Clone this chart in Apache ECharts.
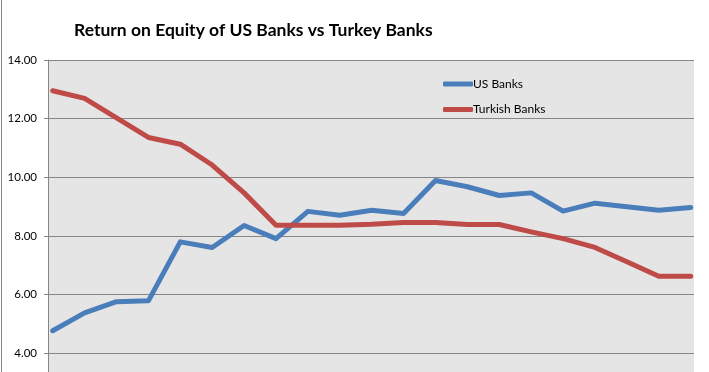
<!DOCTYPE html>
<html>
<head>
<meta charset="utf-8">
<script src="https://cdn.jsdelivr.net/npm/echarts@6/dist/echarts.min.js"></script>
<style>html,body{margin:0;padding:0;background:#fff;}#c{width:709px;height:372px;}</style>
</head>
<body>
<div id="c"></div>
<script>
var titleText = 'Return on Equity of US Banks vs Turkey Banks';
var categories = ['1','2','3','4','5','6','7','8','9','10','11','12','13','14','15','16','17','18','19','20','21'];
var usBanks = [4.77, 5.38, 5.76, 5.79, 7.80, 7.61, 8.36, 7.91, 8.84, 8.71, 8.88, 8.77, 9.89, 9.68, 9.38, 9.47, 8.85, 9.12, 9.00, 8.88, 8.97];
var turkishBanks = [12.95, 12.69, 12.03, 11.36, 11.13, 10.42, 9.47, 8.37, 8.37, 8.37, 8.40, 8.46, 8.46, 8.39, 8.39, 8.14, 7.91, 7.61, 7.12, 6.63, 6.63];
var seriesNames = ['US Banks', 'Turkish Banks'];
var yMin = 2, yMax = 14, yInterval = 2;

var chart = echarts.init(document.getElementById('c'), null, {renderer: 'canvas'});
var font = 'Lato, "Open Sans", sans-serif';
chart.setOption({
  animation: false,
  backgroundColor: '#fff',
  title: {
    text: titleText,
    left: 69, top: 16,
    textStyle: {fontFamily: font, fontWeight: 'bold', fontSize: 17.5, color: '#000'}
  },
  legend: {
    orient: 'vertical',
    left: 443, top: 78, padding: 0,
    itemWidth: 30, itemHeight: 5,
    itemGap: 13.5,
    icon: 'roundRect',
    data: seriesNames,
    textStyle: {fontFamily: font, fontSize: 12, color: '#000', padding: [0,0,0,-5]}
  },
  grid: [
    {left: 48, width: 646, top: 60, height: 352, outerBoundsMode: 'none', show: true, backgroundColor: '#e5e5e5', borderWidth: 0},
    {left: 52.7, width: 638, top: 60, height: 352, outerBoundsMode: 'none', show: false}
  ],
  xAxis: [
    {gridIndex: 0, type: 'value', show: false, min: 0, max: 1},
    {gridIndex: 1, type: 'category', data: categories, boundaryGap: false, show: false}
  ],
  yAxis: [
    {gridIndex: 0, type: 'value', min: yMin, max: yMax, interval: yInterval,
     axisLine: {show: true, lineStyle: {color: '#868686', width: 1}},
     axisTick: {show: true, length: 4, lineStyle: {color: '#868686'}},
     splitLine: {show: true, lineStyle: {color: '#868686', width: 1}},
     axisLabel: {formatter: function(v){return v.toFixed(2);}, fontFamily: font, fontSize: 11.5, color: '#000', margin: 11}
    },
    {gridIndex: 1, type: 'value', min: yMin, max: yMax, show: false}
  ],
  series: [
    {name: seriesNames[0], type: 'line', xAxisIndex: 1, yAxisIndex: 1, data: usBanks,
     symbol: 'none', color: '#4a7ebb', lineStyle: {width: 5, color: '#4a7ebb', cap: 'round', join: 'round'}},
    {name: seriesNames[1], type: 'line', xAxisIndex: 1, yAxisIndex: 1, data: turkishBanks,
     symbol: 'none', color: '#be4b48', lineStyle: {width: 5, color: '#be4b48', cap: 'round', join: 'round'}}
  ],
  graphic: [
    {type: 'line', shape: {x1: 1.5, y1: 0, x2: 1.5, y2: 372}, style: {stroke: '#868686', lineWidth: 1}}
  ]
});
</script>
</body>
</html>
